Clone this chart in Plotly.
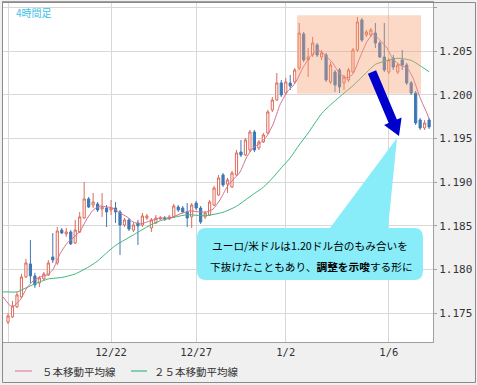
import plotly.graph_objects as go

# ---------------- data (4-hour candles, EUR/USD) ----------------
idx = list(range(95))
opens = [1.17400,1.17458,1.17572,1.17686,1.17915,1.18064,1.17927,1.17847,1.17893,1.17938,
         1.18144,1.18075,1.18452,1.18407,1.18430,1.18304,1.18430,1.18590,1.18808,1.18738,
         1.18750,1.18693,1.18704,1.18681,1.18704,1.18659,1.18510,1.18568,1.18452,1.18533,
         1.18510,1.18590,1.18476,1.18533,1.18579,1.18590,1.18579,1.18602,1.18716,1.18704,
         1.18659,1.18602,1.18761,1.18704,1.18602,1.18624,1.18738,1.18853,1.19082,1.18979,
         1.18945,1.19082,1.19345,1.19311,1.19368,1.19574,1.19391,1.19460,1.19562,1.19826,
         1.19940,1.20135,1.20020,1.20135,1.20146,1.20306,1.20695,1.20398,1.20455,1.20569,
         1.20432,1.20455,1.20146,1.20260,1.20283,1.20135,1.20169,1.20260,1.20512,1.20855,
         1.20684,1.20684,1.20706,1.20592,1.20432,1.20260,1.20420,1.20260,1.20398,1.20340,
         1.20135,1.20020,1.19711,1.19620,1.19711]
highs = [1.17503,1.17641,1.17744,1.17950,1.18121,1.18338,1.17963,1.17927,1.17972,1.18110,
         1.18418,1.18487,1.18476,1.18476,1.18452,1.18568,1.18659,1.19002,1.18830,1.18876,
         1.18773,1.18876,1.18738,1.18796,1.18773,1.18681,1.18590,1.18590,1.18544,1.18568,
         1.18647,1.18636,1.18590,1.18624,1.18613,1.18613,1.18624,1.18750,1.18738,1.18727,
         1.18761,1.18761,1.18785,1.18727,1.18670,1.18796,1.18956,1.19082,1.19105,1.19048,
         1.19128,1.19368,1.19482,1.19505,1.19597,1.19597,1.19482,1.19562,1.19826,1.19974,
         1.20249,1.20169,1.20192,1.20226,1.20306,1.20821,1.20718,1.20535,1.20661,1.20592,
         1.20512,1.20478,1.20375,1.20283,1.20306,1.20226,1.20306,1.20535,1.20890,1.20878,
         1.20741,1.20764,1.20821,1.20615,1.20821,1.20420,1.20455,1.20363,1.20512,1.20363,
         1.20157,1.20043,1.19734,1.19711,1.19734]
lows = [1.17377,1.17446,1.17560,1.17675,1.17904,1.17847,1.17790,1.17801,1.17870,1.17927,
        1.18075,1.18053,1.18407,1.18373,1.18281,1.18293,1.18418,1.18579,1.18704,1.18704,
        1.18659,1.18602,1.18487,1.18624,1.18533,1.18167,1.18487,1.18441,1.18430,1.18281,
        1.18487,1.18568,1.18430,1.18522,1.18568,1.18556,1.18568,1.18590,1.18659,1.18647,
        1.18487,1.18476,1.18681,1.18522,1.18579,1.18613,1.18727,1.18842,1.18945,1.18876,
        1.18933,1.19071,1.19288,1.19299,1.19345,1.19345,1.19368,1.19448,1.19551,1.19803,
        1.19929,1.19974,1.19997,1.20054,1.20123,1.20283,1.20375,1.20203,1.20432,1.20432,
        1.20398,1.20146,1.20123,1.20032,1.20020,1.20054,1.20146,1.20249,1.20489,1.20604,
        1.20661,1.20661,1.20535,1.20420,1.20260,1.20237,1.20283,1.20237,1.20283,1.20112,
        1.19997,1.19654,1.19597,1.19597,1.19608]
closes = [1.17469,1.17584,1.17710,1.17915,1.18075,1.17927,1.17824,1.17904,1.17950,1.18075,
          1.18110,1.18441,1.18418,1.18430,1.18293,1.18452,1.18602,1.18808,1.18716,1.18773,
          1.18681,1.18716,1.18659,1.18704,1.18659,1.18510,1.18568,1.18464,1.18510,1.18499,
          1.18613,1.18613,1.18568,1.18590,1.18590,1.18579,1.18602,1.18727,1.18681,1.18659,
          1.18590,1.18738,1.18704,1.18544,1.18647,1.18773,1.18933,1.19048,1.18968,1.19025,
          1.19105,1.19334,1.19311,1.19482,1.19574,1.19368,1.19460,1.19540,1.19803,1.19940,
          1.20135,1.19997,1.20146,1.20100,1.20283,1.20706,1.20398,1.20432,1.20592,1.20455,
          1.20478,1.20169,1.20340,1.20112,1.20089,1.20203,1.20283,1.20512,1.20832,1.20626,
          1.20718,1.20741,1.20592,1.20432,1.20283,1.20398,1.20317,1.20340,1.20340,1.20135,
          1.20020,1.19677,1.19620,1.19677,1.19631]

ma5_x = [-1.1,0.9,2.7,4.2,5.6,7.1,8.7,10.0,11.6,13.2,14.5,16.1,17.6,19.0,20.5,22.1,23.4,25.0,26.6,27.9,
         29.5,31.0,32.4,33.9,36.2,38.4,40.6,42.9,44.4,45.8,47.3,48.9,50.2,51.8,53.3,54.7,56.3,57.8,59.2,60.7,
         62.3,63.6,64.5,65.8,67.4,69.0,70.3,71.2,72.5,74.1,75.7,77.0,78.6,80.1,81.5,83.0,84.6,85.9,87.5,89.1,
         90.4,92.0,93.5,94.0]
ma5_y = [1.17686,1.17572,1.17652,1.17789,1.17869,1.17915,1.17938,1.17996,1.18178,1.18304,
         1.18361,1.18441,1.18579,1.18681,1.18727,1.18716,1.18704,1.18647,1.18602,1.18544,
         1.18522,1.18544,1.18568,1.18590,1.18590,1.18636,1.18670,1.18659,1.18659,1.18693,
         1.18796,1.18945,1.19025,1.19116,1.19288,1.19391,1.19448,1.19528,1.19665,1.19883,
         1.20032,1.20100,1.20169,1.20306,1.20432,1.20512,1.20478,1.20432,1.20363,1.20238,
         1.20192,1.20238,1.20432,1.20604,1.20695,1.20626,1.20535,1.20409,1.20340,1.20306,
         1.20192,1.19963,1.19791,1.19723]

ma25_x = [-1.1,0,2,4,6,9,12,15,18,20,22,24,26,28,31,34,37,40,44,48,
          51,53,55,57,59,61,63,65,67,70,72,75,77,80,82,85,87,90,92,94]
ma25_y = [1.17744,1.17744,1.17744,1.17790,1.17835,1.17893,1.17909,1.17950,1.18030,1.18098,
          1.18190,1.18276,1.18338,1.18396,1.18487,1.18559,1.18597,1.18627,1.18616,1.18655,
          1.18724,1.18797,1.18870,1.18942,1.19045,1.19163,1.19277,1.19426,1.19562,1.19784,
          1.19885,1.20018,1.20104,1.20253,1.20347,1.20396,1.20417,1.20393,1.20332,1.20263]

x_tickvals = [0, 23, 42, 62, 85]
x_ticktext = ["", "12/22", "12/27", "1/2", "1/6"]
y_tickvals = [1.175, 1.180, 1.185, 1.190, 1.195, 1.200, 1.205, 1.210]
y_ticktext = ["1.175", "1.180", "1.185", "1.190", "1.195", "1.200", "1.205", ""]

legend_names = ["５本移動平均線", "２５本移動平均線"]
title_label = "4時間足"
note_line1 = "ユーロ/米ドルは1.20ドル台のもみ合いを"
note_line2 = "下抜けたこともあり、<b>調整を示唆</b>する形に"

# highlighted consolidation zone (data coords)
zone = dict(x0=64.5, x1=92.2, y0=1.2001, y1=1.2091)

# ---------------- layout geometry ----------------
W, H = 477, 385
L, T, R, B = 3, 2, 44, 43
PW, PH = W - L - R, H - T - B


def pp(x, y):
    return (x - L) / PW, 1 - (y - T) / PH


PINK = "#d4708e"
GREEN = "#3db87a"
JP = "Noto Sans CJK JP"
MONO = "DejaVu Sans Mono"

fig = go.Figure()
fig.add_trace(go.Candlestick(
    x=idx, open=opens, high=highs, low=lows, close=closes,
    increasing=dict(line=dict(color="#de6a58", width=1), fillcolor="#ffffff"),
    decreasing=dict(line=dict(color="#3c78b6", width=1), fillcolor="#3c78b6"),
    whiskerwidth=0, showlegend=False, hoverinfo="skip"))
fig.add_trace(go.Scatter(x=ma25_x, y=ma25_y, mode="lines",
                         line=dict(color=GREEN, width=1, shape="spline", smoothing=0.6),
                         showlegend=False, hoverinfo="skip"))
fig.add_trace(go.Scatter(x=ma5_x, y=ma5_y, mode="lines",
                         line=dict(color=PINK, width=1, shape="spline", smoothing=0.5),
                         showlegend=False, hoverinfo="skip"))

shapes = []
# shaded zone
shapes.append(dict(type="rect", xref="x", yref="y", **zone,
                   fillcolor="#f6a070", opacity=0.4, line=dict(width=0), layer="above"))

# blue arrow
arrow_px = [(376.1, 70.2), (396.9, 119.5), (401.6, 117.6), (399, 136), (384.1, 125.0),
            (388.7, 123.0), (367.9, 73.8)]
pts = [pp(x, y) for x, y in arrow_px]
path = "M " + " L ".join(f"{a:.5f},{b:.5f}" for a, b in pts) + " Z"
shapes.append(dict(type="path", xref="paper", yref="paper", path=path,
                   fillcolor="#0000cc", line=dict(width=0), layer="above"))

# callout bubble
x0, x1, y0, y1, r = 197, 423, 228, 280, 9
seq = [("M", [(x0 + r, y0)]), ("L", [(330, y0)]), ("L", [(397, 138)]), ("L", [(388, y0)]),
       ("L", [(x1 - r, y0)]), ("Q", [(x1, y0), (x1, y0 + r)]), ("L", [(x1, y1 - r)]),
       ("Q", [(x1, y1), (x1 - r, y1)]), ("L", [(x0 + r, y1)]), ("Q", [(x0, y1), (x0, y1 - r)]),
       ("L", [(x0, y0 + r)]), ("Q", [(x0, y0), (x0 + r, y0)])]
cp = ""
for cmd, ps in seq:
    cp += cmd + " " + " ".join("{:.5f},{:.5f}".format(*pp(x, y)) for x, y in ps) + " "
cp += "Z"
shapes.append(dict(type="path", xref="paper", yref="paper", path=cp,
                   fillcolor="#88ecf9", line=dict(width=0), layer="above"))

# legend sample lines
for (lx0, lx1), col in [((15, 32), "#e29aae"), ((131, 147), "#5cc79a")]:
    a = pp(lx0, 371)
    b = pp(lx1, 371)
    shapes.append(dict(type="line", xref="paper", yref="paper", x0=a[0], y0=a[1], x1=b[0], y1=b[1],
                       line=dict(color=col, width=1.5)))

# outer frame
a = pp(2.5, 2.5)
b = pp(475.5, 382.5)
shapes.append(dict(type="rect", xref="paper", yref="paper", x0=a[0], y0=b[1], x1=b[0], y1=a[1],
                   line=dict(color="#8a8a8a", width=1), fillcolor="rgba(0,0,0,0)", layer="above"))

annotations = []


def text_at(x, y, s, size, color, anchor="left", family=JP):
    px_, py_ = pp(x, y)
    annotations.append(dict(x=px_, y=py_, xref="paper", yref="paper", text=s, showarrow=False,
                            xanchor=anchor, yanchor="middle",
                            font=dict(family=family, size=size, color=color)))


text_at(14, 12, title_label, 10, "#40bfe8")
text_at(310, 245, note_line1, 10.7, "#000000", anchor="center")
text_at(311, 266, note_line2, 10.7, "#000000", anchor="center")
text_at(40, 372, legend_names[0], 10.5, "#333333")
text_at(152, 372, legend_names[1], 10.5, "#333333")

fig.update_layout(
    width=W, height=H,
    margin=dict(l=L, r=R, t=T, b=B, pad=0),
    paper_bgcolor="#f0f0f0", plot_bgcolor="#ffffff",
    showlegend=False,
    shapes=shapes, annotations=annotations,
    xaxis=dict(range=[-1.12, 94.87], tickmode="array", tickvals=x_tickvals, ticktext=x_ticktext,
               showgrid=True, gridcolor="#d8d8d8", gridwidth=1, zeroline=False,
               showline=True, linecolor="#a0a0a0", mirror=True, ticks="",
               tickfont=dict(family=MONO, size=10.5, color="#333333"),
               rangeslider=dict(visible=False), fixedrange=True),
    yaxis=dict(range=[1.17171, 1.21061], side="right", tickmode="array",
               tickvals=y_tickvals, ticktext=y_ticktext,
               showgrid=True, gridcolor="#d8d8d8", gridwidth=1, zeroline=False,
               showline=True, linecolor="#a0a0a0", mirror=True,
               ticks="outside", ticklen=3, tickcolor="#a0a0a0",
               tickfont=dict(family=MONO, size=11, color="#333333"), fixedrange=True),
)

fig.write_html(
    "out.html",
    config={"displayModeBar": False},
    post_script="document.body.style.margin='0';document.body.style.padding='0';"
                "document.documentElement.style.overflow='hidden';",
)
